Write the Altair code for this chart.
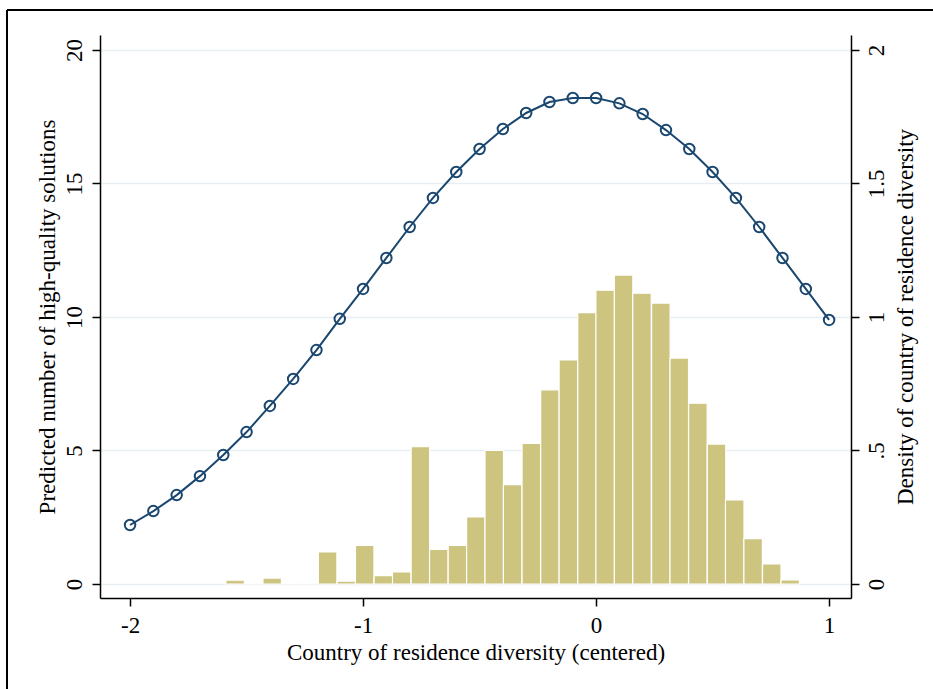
import altair as alt
import pandas as pd

# Predicted number of high-quality solutions (line with hollow circles)
line_x = [-2.0, -1.9, -1.8, -1.7, -1.6, -1.5, -1.4, -1.3, -1.2, -1.1, -1.0,
          -0.9, -0.8, -0.7, -0.6, -0.5, -0.4, -0.3, -0.2, -0.1, 0.0,
          0.1, 0.2, 0.3, 0.4, 0.5, 0.6, 0.7, 0.8, 0.9, 1.0]
line_y = [2.21, 2.73, 3.33, 4.04, 4.83, 5.69, 6.67, 7.68, 8.76, 9.93, 11.05,
          12.21, 13.37, 14.46, 15.43, 16.29, 17.04, 17.64, 18.05, 18.20, 18.20,
          18.00, 17.60, 17.00, 16.29, 15.43, 14.46, 13.37, 12.21, 11.05, 9.89]

# Histogram of country of residence diversity (density)
bin_center = [-1.549, -1.470, -1.390, -1.311, -1.231, -1.152, -1.072, -0.993,
              -0.913, -0.834, -0.754, -0.675, -0.595, -0.516, -0.437, -0.358,
              -0.278, -0.198, -0.119, -0.039, 0.039, 0.118, 0.197, 0.278,
              0.357, 0.437, 0.517, 0.595, 0.674, 0.754, 0.833]
density = [0.014, 0.0, 0.022, 0.0, 0.0, 0.120, 0.011, 0.145,
           0.031, 0.045, 0.514, 0.130, 0.145, 0.251, 0.500, 0.372,
           0.527, 0.727, 0.839, 1.016, 1.100, 1.157, 1.089, 1.052,
           0.846, 0.677, 0.524, 0.315, 0.170, 0.075, 0.015]
bin_width = 0.0794

y_ticks = [0, 5, 10, 15, 20]
d_ticks = [0, 0.5, 1, 1.5, 2]
x_ticks = [-2, -1, 0, 1]

line_df = pd.DataFrame({"x": line_x, "y": line_y})
hist_df = pd.DataFrame({
    "x0": [c - bin_width / 2 for c in bin_center],
    "x1": [c + bin_width / 2 for c in bin_center],
    "d": density,
})

FONT = "Liberation Serif"
FS = 23
NAVY = "#1a476f"
SAND = "#cdc480"
GRID = "#e6eef1"

xscale = alt.Scale(domain=[-2.129, 1.094], nice=False, zero=False)
yscale = alt.Scale(domain=[-0.5243, 20.56], nice=False, zero=False)
dscale = alt.Scale(domain=[-0.05243, 2.056], nice=False, zero=False)

common = dict(
    domainColor="black", domainWidth=1.5, tickColor="black", tickWidth=1.5,
    tickSize=8, labelFont=FONT, labelFontSize=FS, labelColor="black",
    titleFont=FONT, titleFontSize=FS, titleFontWeight="normal", titleColor="black",
)

x_axis = alt.Axis(
    values=x_ticks, labelExpr="'' + datum.value",
    title="Country of residence diversity (centered)",
    grid=False, labelPadding=8, titleY=54, titleBaseline="middle", **common,
)

d_axis = alt.Axis(
    orient="right", values=d_ticks,
    labelExpr="datum.value == 0.5 ? '.5' : '' + datum.value",
    title="Density of country of residence diversity", grid=False,
    labelAngle=270, labelAlign="center", labelBaseline="top", labelPadding=6,
    titleAngle=270, titleX=54, titleY=281.5,
    titleAlign="center", titleBaseline="middle", **common,
)

y_axis = alt.Axis(
    values=y_ticks, labelExpr="'' + datum.value",
    title="Predicted number of high-quality solutions",
    grid=True, gridColor=GRID, gridWidth=1.5,
    labelAngle=270, labelAlign="center", labelBaseline="bottom", labelPadding=6,
    titleAngle=270, titleX=-53, titleY=281.5, titleAlign="center",
    titleBaseline="middle", **common,
)

bars = alt.Chart(hist_df).mark_rect(
    color=SAND, stroke="white", strokeWidth=1.2
).encode(
    x=alt.X("x0:Q", scale=xscale, axis=x_axis),
    x2="x1:Q",
    y=alt.Y("d:Q", scale=dscale, axis=d_axis),
    y2=alt.Y2(datum=0),
)

line = alt.Chart(line_df).mark_line(color=NAVY, strokeWidth=2).encode(
    x=alt.X("x:Q", scale=xscale, axis=x_axis),
    y=alt.Y("y:Q", scale=yscale, axis=y_axis),
)
pts = alt.Chart(line_df).mark_point(
    shape="circle", filled=False, color=NAVY, size=110, strokeWidth=2, opacity=1
).encode(
    x=alt.X("x:Q", scale=xscale, axis=x_axis),
    y=alt.Y("y:Q", scale=yscale, axis=y_axis),
)

frame_top = alt.Chart(line_df).mark_rule(color="black", strokeWidth=1.5).encode(
    x=alt.value(-93), x2=alt.value(840), y=alt.value(-25)
)
frame_left = alt.Chart(line_df).mark_rule(color="black", strokeWidth=1.5).encode(
    x=alt.value(-93), y=alt.value(-25), y2=alt.value(660)
)

left = alt.layer(line, pts)

chart = alt.layer(bars, left, frame_top, frame_left).resolve_scale(
    y="independent"
).properties(
    width=751, height=563,
    padding={"left": 100, "top": 35, "right": 82, "bottom": 91},
    autosize=alt.AutoSizeParams(type="none"),
).configure(background="white").configure_view(stroke=None)

chart.save("out.html", embed_options={"renderer": "svg", "actions": False})
